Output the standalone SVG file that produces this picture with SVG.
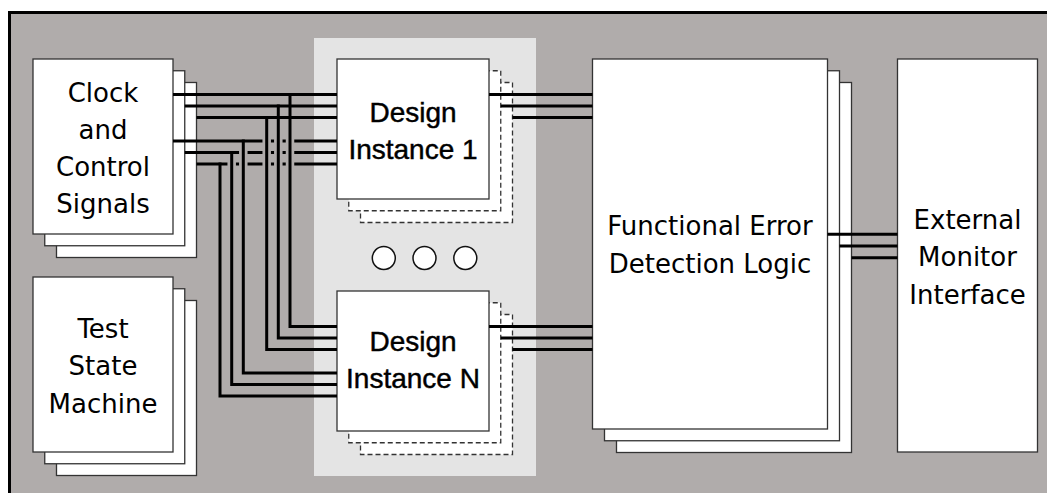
<svg xmlns="http://www.w3.org/2000/svg" width="1047" height="493" viewBox="0 0 1047 493">
  <style>
    .box { fill: #ffffff; stroke: #333333; stroke-width: 1.3; }
    .dash { fill: #ffffff; stroke: #333333; stroke-width: 1.3; stroke-dasharray: 5 3; }
    .wire { fill: none; stroke: #000000; stroke-width: 3; stroke-linecap: butt; stroke-linejoin: miter; }
    .halo { fill: none; stroke: #b0acab; stroke-width: 8.5; }
    .lbl { font-family: "DejaVu Sans", "Liberation Sans", sans-serif; font-size: 26px; fill: #000000; text-anchor: middle; }
    .dlbl { font-family: "Liberation Sans", Arial, sans-serif; font-size: 28px; fill: #000000; stroke: #000000; stroke-width: 0.45; text-anchor: middle; }
    .dot { fill: #ffffff; stroke: #111111; stroke-width: 1.5; }
  </style>

  <!-- board background with top and left edge -->
  <g id="board">
    <rect x="8" y="11" width="1039" height="482" fill="#b0acab"/>
    <path d="M9.5 493 V12.5 H1047" fill="none" stroke="#000000" stroke-width="3"/>
    <rect x="314" y="38" width="222" height="438" fill="#e4e4e4"/>
  </g>

  <g id="clock-control">
    <rect class="box" x="56.5" y="82.5" width="140" height="175"/>
    <rect class="box" x="44.75" y="70.75" width="140" height="175"/>
    <rect class="box" x="33" y="59" width="140" height="175"/>
    <text class="lbl" x="103" y="101.5">Clock</text>
    <text class="lbl" x="103" y="138.5">and</text>
    <text class="lbl" x="103" y="175.5">Control</text>
    <text class="lbl" x="103" y="212.5">Signals</text>
  </g>

  <g id="test-state-machine">
    <rect class="box" x="56.5" y="300.5" width="140" height="175"/>
    <rect class="box" x="44.75" y="288.75" width="140" height="175"/>
    <rect class="box" x="33" y="277" width="140" height="175"/>
    <text class="lbl" x="103" y="337.5">Test</text>
    <text class="lbl" x="103" y="375">State</text>
    <text class="lbl" x="103" y="412.5">Machine</text>
  </g>

  <g id="design-instance-1">
    <rect class="dash" x="360.5" y="82.5" width="152" height="140"/>
    <rect class="dash" x="348.75" y="70.75" width="152" height="140"/>
    <rect class="box" x="337" y="59" width="152" height="140"/>
    <text class="dlbl" x="413" y="121.5">Design</text>
    <text class="dlbl" x="413" y="158.5">Instance 1</text>
  </g>

  <g id="ellipsis">
    <circle class="dot" cx="383.8" cy="258" r="11.5"/>
    <circle class="dot" cx="424.5" cy="258" r="11.5"/>
    <circle class="dot" cx="465.3" cy="258" r="11.5"/>
  </g>

  <g id="design-instance-n">
    <rect class="dash" x="360.5" y="314.5" width="152" height="140"/>
    <rect class="dash" x="348.75" y="302.75" width="152" height="140"/>
    <rect class="box" x="337" y="291" width="152" height="140"/>
    <text class="dlbl" x="413" y="351">Design</text>
    <text class="dlbl" x="413" y="388">Instance N</text>
  </g>

  <g id="error-detection">
    <rect class="box" x="616.5" y="82.5" width="235" height="370"/>
    <rect class="box" x="604.5" y="70.75" width="235" height="370"/>
    <rect class="box" x="592.5" y="59" width="235" height="370"/>
    <text class="lbl" x="710" y="235">Functional Error</text>
    <text class="lbl" x="710" y="273">Detection Logic</text>
  </g>

  <g id="monitor-interface">
    <rect class="box" x="897.5" y="59" width="140" height="393"/>
    <text class="lbl" x="967.5" y="228.5">External</text>
    <text class="lbl" x="967.5" y="266">Monitor</text>
    <text class="lbl" x="967.5" y="303.5">Interface</text>
  </g>

  <g id="connectors">
    <!-- lower bundle from the clock stack, drawn first so the drops cut it -->
    <path class="wire" d="M173 141 H337"/>
    <path class="wire" d="M184.75 152.5 H337"/>
    <path class="wire" d="M196.5 164 H337"/>

    <!-- gaps where the drops pass over the lower bundle -->
    <path class="halo" d="M290 134 V171"/>
    <path class="halo" d="M278.3 134 V171"/>
    <path class="halo" d="M266.7 134 V171"/>
    <path class="halo" d="M243.3 145 V171"/>
    <path class="halo" d="M231.7 156.5 V171"/>

    <!-- drops feeding instance N -->
    <path class="wire" d="M290 93 V326.5 H337"/>
    <path class="wire" d="M278.3 104.5 V338 H337"/>
    <path class="wire" d="M266.7 116 V349.5 H337"/>
    <path class="wire" d="M243.3 139.5 V373 H337"/>
    <path class="wire" d="M231.7 151 V384.5 H337"/>
    <path class="wire" d="M220 162.5 V396 H337"/>

    <!-- upper bundle from the clock stack -->
    <path class="wire" d="M173 94.5 H337"/>
    <path class="wire" d="M184.75 106 H337"/>
    <path class="wire" d="M196.5 117.5 H337"/>

    <!-- instance outputs into the error detection stack -->
    <path class="wire" d="M489 94.5 H592.5"/>
    <path class="wire" d="M500.75 106 H592.5"/>
    <path class="wire" d="M512.5 117.5 H592.5"/>
    <path class="wire" d="M489 326.5 H592.5"/>
    <path class="wire" d="M500.75 338 H592.5"/>
    <path class="wire" d="M512.5 349.5 H592.5"/>

    <!-- error detection to monitor -->
    <path class="wire" d="M827.5 234.3 H897.5"/>
    <path class="wire" d="M839.5 246 H897.5"/>
    <path class="wire" d="M851.5 257.7 H897.5"/>
  </g>
</svg>
